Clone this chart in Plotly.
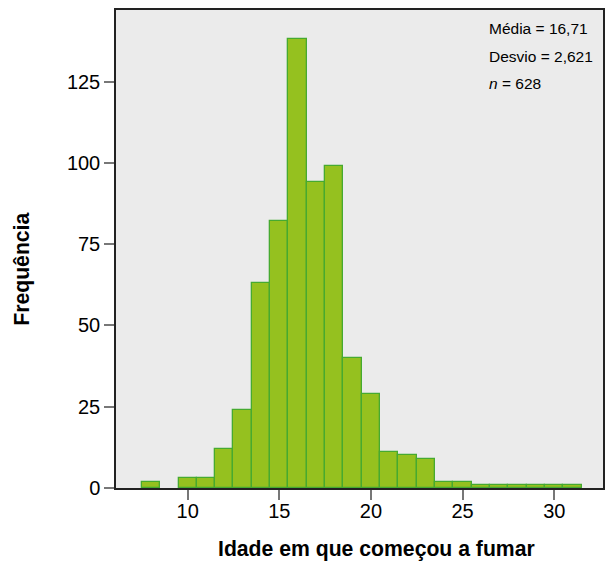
import plotly.graph_objects as go

# Histogram bins (centers, width 1) and frequencies
idade = [8, 10, 11, 12, 13, 14, 15, 16, 17, 18, 19, 20, 21, 22, 23, 24, 25, 26, 27, 28, 29, 30, 31]
frequencia = [2, 3, 3, 12, 24, 63, 82, 138, 94, 99, 40, 29, 11, 10, 9, 2, 2, 1, 1, 1, 1, 1, 1]

x_ticks = [10, 15, 20, 25, 30]
y_ticks = [0, 25, 50, 75, 100, 125]

stats_lines = ["Média = 16,71", "Desvio = 2,621", "<i>n</i> = 628"]
x_title = "Idade em que começou a fumar"
y_title = "Frequência"

FONT = "Liberation Sans, Arial, sans-serif"

fig = go.Figure()
fig.add_trace(go.Bar(
    x=idade, y=frequencia, width=1,
    marker=dict(color="#95C11F", line=dict(color="#46AA30", width=1.3)),
    showlegend=False,
))

for i, txt in enumerate(stats_lines):
    fig.add_annotation(
        text=txt, xref="paper", yref="paper",
        x=0.761, y=0.961 - i * 0.0575, xanchor="left", yanchor="middle",
        showarrow=False, font=dict(family=FONT, size=15.5, color="#000"),
    )

fig.add_annotation(
    text="<b>" + x_title + "</b>", xref="paper", yref="paper",
    x=0.5348, y=-0.1277, xanchor="center", yanchor="middle",
    showarrow=False, font=dict(family=FONT, size=21.2, color="#000"),
)
fig.add_annotation(
    text="<b>" + y_title + "</b>", xref="paper", yref="paper",
    x=-0.192, y=0.4576, xanchor="center", yanchor="middle", textangle=-90,
    showarrow=False, font=dict(family=FONT, size=21.2, color="#000"),
)

fig.update_layout(
    width=608, height=564,
    margin=dict(l=116, r=3, t=10, b=76),
    paper_bgcolor="white", plot_bgcolor="#EBEBEB",
    bargap=0,
    font=dict(family=FONT, size=20, color="#000"),
    xaxis=dict(
        range=[6.09, 32.66], tickvals=x_ticks, ticks="outside", ticklen=10,
        tickcolor="#777", tickwidth=1.5, showgrid=False, zeroline=False,
        showline=True, linecolor="#222", linewidth=1.5, mirror=True,
        tickfont=dict(size=20), ticklabelstandoff=-6,
    ),
    yaxis=dict(
        range=[0, 147], tickvals=y_ticks, ticks="outside", ticklen=10,
        tickcolor="#777", tickwidth=1.5, showgrid=False, zeroline=False,
        showline=True, linecolor="#222", linewidth=1.5, mirror=True,
        tickfont=dict(size=20),
    ),
)

fig.write_html("out.html")
